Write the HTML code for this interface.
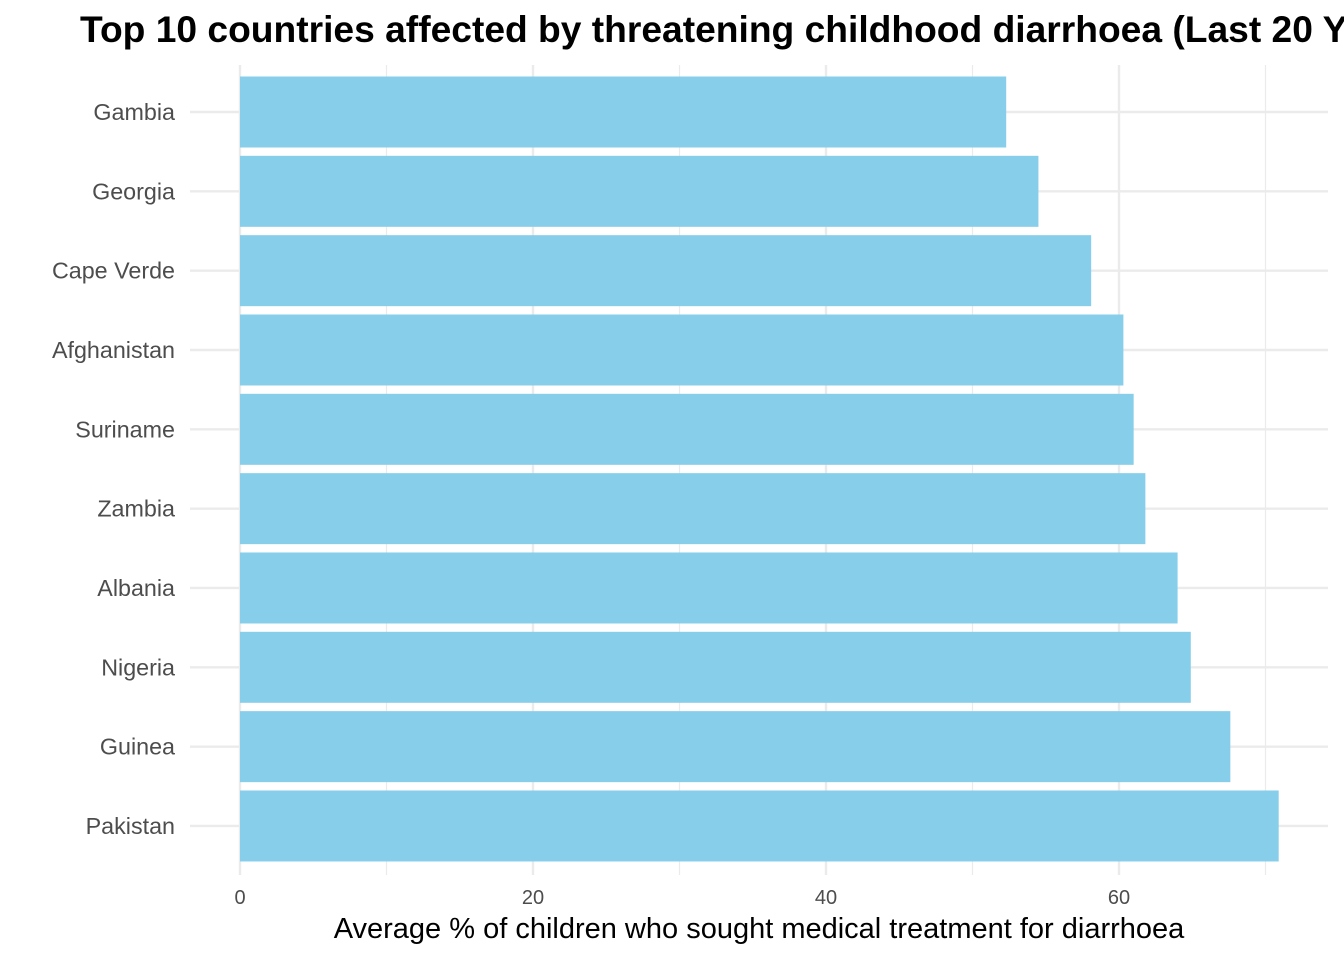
<!DOCTYPE html>
<html><head><meta charset="utf-8"><style>
body{margin:0;background:#fff;overflow:hidden;}
svg{display:block;font-family:"Liberation Sans",sans-serif;}
</style></head><body>
<svg id="chart" width="1344" height="960">
<text x="80" y="42" font-size="37.2" font-weight="bold" fill="#000">Top 10 countries affected by threatening childhood diarrhoea (Last 20 Years)</text>
<g id="grid"></g><g id="bars"></g><g id="ylabels"></g><g id="xticks"></g>
<text x="759" y="938" font-size="29" text-anchor="middle" fill="#000">Average % of children who sought medical treatment for diarrhoea</text>
</svg>
<script>
const categories=["Gambia","Georgia","Cape Verde","Afghanistan","Suriname","Zambia","Albania","Nigeria","Guinea","Pakistan"];
const values=[52.3,54.5,58.1,60.3,61.0,61.8,64.0,64.9,67.6,70.9];
const xTicks=[0,20,40,60];
const NS="http://www.w3.org/2000/svg";
const x=v=>240+v*14.65;
const y=i=>112+i*79.33;
function mk(t,a,p){const e=document.createElementNS(NS,t);for(const k in a)e.setAttribute(k,a[k]);p.appendChild(e);return e;}
const grid=document.getElementById('grid'),bars=document.getElementById('bars'),yl=document.getElementById('ylabels'),xt=document.getElementById('xticks');
for(let v=10;v<=70;v+=20){const l=mk('line',{x1:x(v),x2:x(v),y1:65,y2:875,stroke:'#ebebeb','stroke-width':1.2},grid);

}
xTicks.forEach(v=>{const l=mk('line',{x1:x(v),x2:x(v),y1:65,y2:875,stroke:'#ebebeb','stroke-width':2.4},grid);


const t=mk('text',{x:x(v),y:904,'font-size':20,'text-anchor':'middle',fill:'#4d4d4d'},xt);t.textContent=v;

});
categories.forEach((c,i)=>{const l=mk('line',{x1:190,x2:1328,y1:y(i),y2:y(i),stroke:'#ebebeb','stroke-width':2.4},grid);


const r=mk('rect',{x:x(0),y:y(i)-35.5,width:x(values[i])-x(0),height:71,fill:'#87ceeb'},bars);


const t=mk('text',{x:175,y:y(i)+8,'font-size':23.3,'text-anchor':'end',fill:'#4d4d4d'},yl);t.textContent=c;

});
</script>
</body></html>
